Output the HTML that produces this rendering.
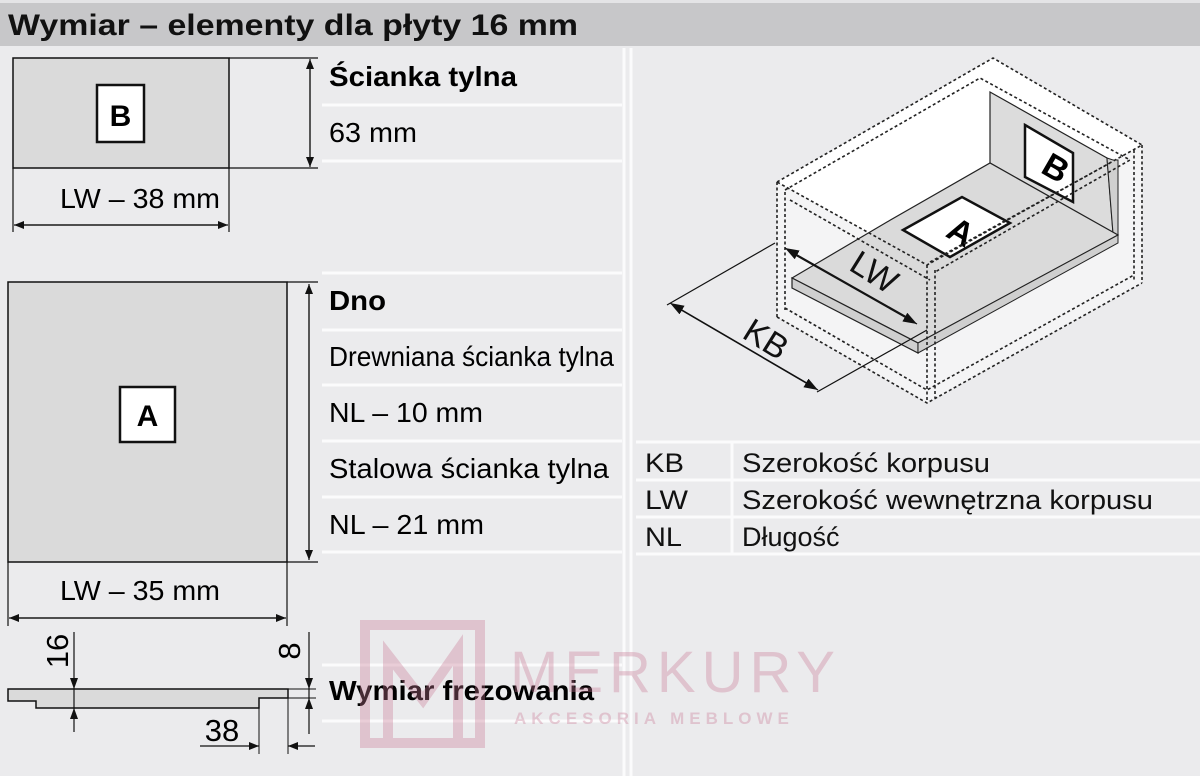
<!DOCTYPE html>
<html><head><meta charset="utf-8"><style>
html,body{margin:0;padding:0;background:#ebebed;}
svg{display:block;font-family:"Liberation Sans",Arial,sans-serif;}
</style></head><body>
<svg width="1200" height="776" viewBox="0 0 1200 776" xmlns="http://www.w3.org/2000/svg">
<defs>
<marker id="ar" markerWidth="10" markerHeight="8" refX="10" refY="4" orient="auto" markerUnits="userSpaceOnUse"><path d="M0,0 L10,4 L0,8 Z" fill="#111"/></marker>
<marker id="ar2" markerWidth="14" markerHeight="10" refX="14" refY="5" orient="auto" markerUnits="userSpaceOnUse"><path d="M0,0 L14,5 L0,10 Z" fill="#111"/></marker>
</defs>
<rect width="1200" height="776" fill="#ebebed"/>
<rect x="0" y="0" width="1200" height="46" fill="#c7c7c9"/>
<rect x="0" y="0" width="1200" height="3" fill="#e4e4e6"/>
<text x="8" y="35" font-size="30" font-weight="bold" fill="#111" textLength="570" lengthAdjust="spacingAndGlyphs">Wymiar – elementy dla płyty 16 mm</text>
<g stroke="#fbfbfc" stroke-width="3">
<line x1="624" y1="48" x2="624" y2="776"/><line x1="631" y1="48" x2="631" y2="776"/>
<line x1="322" y1="105" x2="622" y2="105"/><line x1="322" y1="161" x2="622" y2="161"/>
<line x1="322" y1="273" x2="622" y2="273"/><line x1="322" y1="330" x2="622" y2="330"/>
<line x1="322" y1="385" x2="622" y2="385"/><line x1="322" y1="441" x2="622" y2="441"/>
<line x1="322" y1="497" x2="622" y2="497"/><line x1="322" y1="552" x2="622" y2="552"/>
<line x1="322" y1="665" x2="622" y2="665"/><line x1="322" y1="721" x2="622" y2="721"/>
<line x1="636" y1="442" x2="1200" y2="442"/><line x1="636" y1="480" x2="1200" y2="480"/>
<line x1="636" y1="517" x2="1200" y2="517"/><line x1="636" y1="554" x2="1200" y2="554"/>
<line x1="732" y1="442" x2="732" y2="554"/>
</g>
<!-- B panel -->
<rect x="13" y="58" width="216" height="110" fill="#dadada" stroke="#111" stroke-width="1.5"/>
<line x1="13" y1="168" x2="13" y2="232" stroke="#111" stroke-width="1.2"/>
<line x1="229" y1="168" x2="229" y2="232" stroke="#111" stroke-width="1.2"/>
<line x1="229" y1="58" x2="318" y2="58" stroke="#111" stroke-width="1.2"/>
<line x1="229" y1="168" x2="318" y2="168" stroke="#111" stroke-width="1.2"/>
<rect x="97" y="85" width="47" height="57" fill="#fff" stroke="#111" stroke-width="2.5"/>
<text x="120.5" y="126" font-size="30" font-weight="bold" text-anchor="middle">B</text>
<line x1="310" y1="160" x2="310" y2="59" stroke="#111" stroke-width="1.2" marker-end="url(#ar)"/>
<line x1="310" y1="66" x2="310" y2="167" stroke="#111" stroke-width="1.2" marker-end="url(#ar)"/>
<line x1="20" y1="225" x2="228" y2="225" stroke="#111" stroke-width="1.2" marker-end="url(#ar)"/>
<line x1="222" y1="225" x2="14" y2="225" stroke="#111" stroke-width="1.2" marker-end="url(#ar)"/>
<text x="60" y="208" font-size="28" textLength="160" lengthAdjust="spacingAndGlyphs">LW – 38 mm</text>
<text x="329" y="86" font-size="28" font-weight="bold" textLength="188" lengthAdjust="spacingAndGlyphs">Ścianka tylna</text>
<text x="329" y="142" font-size="28" textLength="88" lengthAdjust="spacingAndGlyphs">63 mm</text>
<!-- A panel -->
<rect x="8" y="282" width="279" height="280" fill="#dadada" stroke="#111" stroke-width="1.5"/>
<line x1="8" y1="562" x2="8" y2="626" stroke="#111" stroke-width="1.2"/>
<line x1="287" y1="562" x2="287" y2="626" stroke="#111" stroke-width="1.2"/>
<line x1="287" y1="282" x2="318" y2="282" stroke="#111" stroke-width="1.2"/>
<line x1="287" y1="562" x2="318" y2="562" stroke="#111" stroke-width="1.2"/>
<line x1="309" y1="555" x2="309" y2="284" stroke="#111" stroke-width="1.2" marker-end="url(#ar)"/>
<line x1="309" y1="290" x2="309" y2="560" stroke="#111" stroke-width="1.2" marker-end="url(#ar)"/>
<rect x="120" y="387" width="55" height="55" fill="#fff" stroke="#111" stroke-width="2.5"/>
<text x="147.5" y="426" font-size="30" font-weight="bold" text-anchor="middle">A</text>
<line x1="14" y1="618" x2="286" y2="618" stroke="#111" stroke-width="1.2" marker-end="url(#ar)"/>
<line x1="280" y1="618" x2="9" y2="618" stroke="#111" stroke-width="1.2" marker-end="url(#ar)"/>
<text x="60" y="600" font-size="28" textLength="160" lengthAdjust="spacingAndGlyphs">LW – 35 mm</text>
<text x="329" y="310" font-size="28" font-weight="bold" textLength="57" lengthAdjust="spacingAndGlyphs">Dno</text>
<text x="329" y="366" font-size="28" textLength="285" lengthAdjust="spacingAndGlyphs">Drewniana ścianka tylna</text>
<text x="329" y="422" font-size="28" textLength="154" lengthAdjust="spacingAndGlyphs">NL – 10 mm</text>
<text x="329" y="478" font-size="28" textLength="280" lengthAdjust="spacingAndGlyphs">Stalowa ścianka tylna</text>
<text x="329" y="534" font-size="28" textLength="155" lengthAdjust="spacingAndGlyphs">NL – 21 mm</text>
<!-- milling profile -->
<path d="M8,689 L288,689 L288,698 L259,698 L259,708 L36,708 L36,701 L8,701 Z" fill="#dadada" stroke="#111" stroke-width="1.5"/>
<line x1="288" y1="689" x2="316" y2="689" stroke="#111" stroke-width="1"/>
<line x1="288" y1="698" x2="316" y2="698" stroke="#111" stroke-width="1"/>
<line x1="74" y1="632" x2="74" y2="732" stroke="#111" stroke-width="1.2"/>
<path d="M70,678 L78,678 L74,689 Z M70,719 L78,719 L74,708 Z" fill="#111"/>
<line x1="309" y1="632" x2="309" y2="734" stroke="#111" stroke-width="1.2"/>
<path d="M305,678 L313,678 L309,689 Z M305,709 L313,709 L309,698 Z" fill="#111"/>
<line x1="259" y1="708" x2="259" y2="754" stroke="#111" stroke-width="1"/>
<line x1="288" y1="698" x2="288" y2="754" stroke="#111" stroke-width="1"/>
<line x1="200" y1="746" x2="259" y2="746" stroke="#111" stroke-width="1.2" marker-end="url(#ar)"/>
<line x1="315" y1="746" x2="288" y2="746" stroke="#111" stroke-width="1.2" marker-end="url(#ar)"/>
<text x="222" y="741" font-size="31" text-anchor="middle">38</text>
<text transform="translate(68,651) rotate(-90)" font-size="31" text-anchor="middle">16</text>
<text transform="translate(300,651) rotate(-90)" font-size="31" text-anchor="middle">8</text>
<text x="329" y="700" font-size="28" font-weight="bold" textLength="265" lengthAdjust="spacingAndGlyphs">Wymiar frezowania</text>
<!-- watermark -->
<g opacity="0.35">
<rect x="365" y="625" width="115" height="118" fill="none" stroke="#c97a95" stroke-width="10"/>
<path d="M388,740 L388,655 L423,700 L458,650 L458,740" fill="none" stroke="#c97a95" stroke-width="10"/>
<text x="510" y="692" font-size="58" fill="#c97a95" letter-spacing="6">MERKURY</text>
<text x="514" y="724" font-size="17" fill="#c97a95" font-weight="bold" letter-spacing="5">AKCESORIA MEBLOWE</text>
</g>
<!-- isometric drawing -->
<polygon points="777,182 993,58 1142,145 1142,283 927,403 777,317" fill="#f4f4f5"/>
<polygon points="777,182 993,58 1142,145 927,265" fill="#fff"/>
<polygon points="990,92 1107,158 1113,233 990,163" fill="#dcdcdc" stroke="#222" stroke-width="1.2"/>
<polygon points="1107,158 1113,160 1118,160 1118,235 1113,233" fill="#d0d0d0" stroke="#222" stroke-width="1"/>
<polygon points="792,278 887,222 990,163 1118,235 918,343" fill="#dadada" stroke="#222" stroke-width="1.2"/>
<polygon points="792,278 918,343 918,353 792,288" fill="#cfcfcf" stroke="#222" stroke-width="1.2"/>
<polygon points="918,343 1118,235 1118,243 918,353" fill="#cfcfcf" stroke="#222" stroke-width="1"/>
<polygon points="1025,125 1073,153 1073,202 1025,177" fill="#fff" stroke="#111" stroke-width="2.5"/>
<text transform="translate(1050,178) rotate(30)" font-size="34" font-weight="bold" text-anchor="middle">B</text>
<polygon points="903,230 962,197 1010,223 950,257" fill="#fff" stroke="#111" stroke-width="2.5"/>
<text transform="translate(955,242) rotate(30)" font-size="34" font-weight="bold" text-anchor="middle">A</text>
<g fill="none" stroke="#222" stroke-width="1.6" stroke-dasharray="3,2.5">
<polygon points="777,182 993,58 1142,145 927,265"/>
<polyline points="785,190 980,78 1130,160 935,272"/>
<line x1="777" y1="182" x2="777" y2="317"/><line x1="785" y1="192" x2="785" y2="310"/>
<line x1="927" y1="265" x2="927" y2="403"/><line x1="935" y1="270" x2="935" y2="398"/>
<line x1="1142" y1="145" x2="1142" y2="283"/><line x1="1134" y1="150" x2="1134" y2="280"/>
<polyline points="777,317 927,403 1142,283"/><polyline points="785,308 927,390 1134,275"/>
<line x1="930" y1="262" x2="1110" y2="163"/>
<line x1="790" y1="200" x2="930" y2="280"/>
</g>
<g stroke="#111" stroke-width="1.2" fill="none">
<line x1="667" y1="305" x2="775" y2="243"/>
<line x1="817" y1="392" x2="927" y2="330"/>
<line x1="676" y1="307" x2="818" y2="390" marker-end="url(#ar2)"/>
<line x1="812" y1="386" x2="670" y2="303" marker-end="url(#ar2)"/>
<line x1="790" y1="252" x2="917" y2="324" marker-end="url(#ar2)"/>
<line x1="912" y1="320" x2="785" y2="248" marker-end="url(#ar2)"/>
</g>
<text transform="translate(868,282) rotate(32)" font-size="34" text-anchor="middle" fill="#111">LW</text>
<text transform="translate(760,349) rotate(32)" font-size="34" text-anchor="middle" fill="#111">KB</text>
<g font-size="27" fill="#111">
<text x="645" y="472" textLength="39" lengthAdjust="spacingAndGlyphs">KB</text><text x="742" y="472" textLength="248" lengthAdjust="spacingAndGlyphs">Szerokość korpusu</text>
<text x="645" y="509" textLength="43" lengthAdjust="spacingAndGlyphs">LW</text><text x="742" y="509" textLength="411" lengthAdjust="spacingAndGlyphs">Szerokość wewnętrzna korpusu</text>
<text x="645" y="546" textLength="37" lengthAdjust="spacingAndGlyphs">NL</text><text x="742" y="546">Długość</text>
</g>
</svg>
</body></html>
